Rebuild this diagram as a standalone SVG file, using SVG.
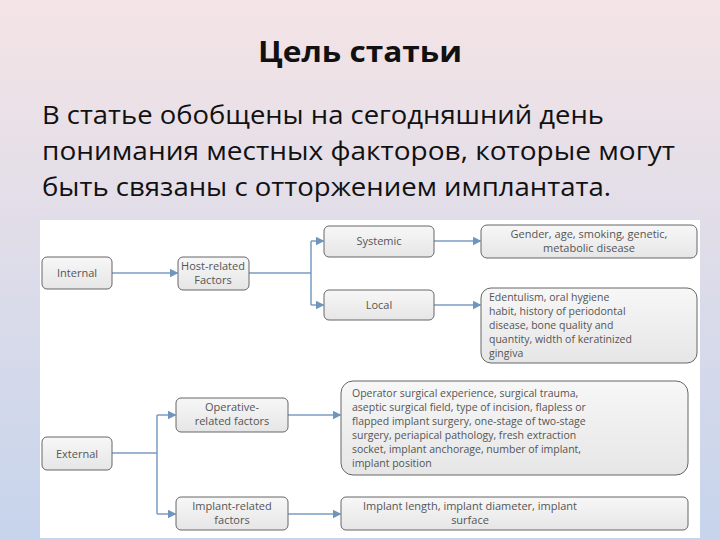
<svg xmlns="http://www.w3.org/2000/svg" width="720" height="540" viewBox="0 0 720 540">
<defs>
<linearGradient id="bg" x1="0" y1="0" x2="0" y2="1"><stop offset="0" stop-color="#f4e4e6"/><stop offset="1" stop-color="#c6d4ec"/></linearGradient>
<linearGradient id="nb" x1="0" y1="0" x2="0" y2="1"><stop offset="0" stop-color="#f7f7f7"/><stop offset="1" stop-color="#e6e6e6"/></linearGradient>
<marker id="a" markerWidth="6" markerHeight="6" refX="5" refY="3" orient="auto"><path d="M0,0 L6,3 L0,6z" fill="#6f95bd"/></marker>
<style>
.n{fill:url(#nb);stroke:#666;stroke-width:1}
.t{font-family:"Open Sans","DejaVu Sans",sans-serif;font-size:11px;fill:#555;text-anchor:middle}
.s{font-family:"Open Sans","DejaVu Sans",sans-serif;font-size:10.5px;fill:#555}
.c{fill:none;stroke:#7a9cc4;stroke-width:1.5}
.h{font-family:"Open Sans","DejaVu Sans",sans-serif;fill:#111}
</style>
</defs>
<rect width="720" height="540" fill="url(#bg)"/>
<text class="h" x="258" y="62" font-size="29" font-weight="bold" textLength="204" lengthAdjust="spacingAndGlyphs">Цель статьи</text>
<text class="h" font-size="25" lengthAdjust="spacingAndGlyphs" x="42" y="124" textLength="562">В статье обобщены на сегодняшний день</text>
<text class="h" font-size="25" lengthAdjust="spacingAndGlyphs" x="42" y="160" textLength="633">понимания местных факторов, которые могут</text>
<text class="h" font-size="25" lengthAdjust="spacingAndGlyphs" x="42" y="196" textLength="569">быть связаны с отторжением имплантата.</text>
<rect x="40" y="220" width="660" height="318" fill="#fff"/>
<g id="connectors">
<path class="c" d="M112,273 H177" marker-end="url(#a)"/>
<path class="c" d="M249,273 H311 M311,241 V305"/>
<path class="c" d="M311,241 H323" marker-end="url(#a)"/>
<path class="c" d="M311,305 H323" marker-end="url(#a)"/>
<path class="c" d="M434,241 H480" marker-end="url(#a)"/>
<path class="c" d="M434,305 H480" marker-end="url(#a)"/>
<path class="c" d="M112,453 H157 M157,415 V514"/>
<path class="c" d="M157,415 H175" marker-end="url(#a)"/>
<path class="c" d="M157,514 H175" marker-end="url(#a)"/>
<path class="c" d="M288,415 H340" marker-end="url(#a)"/>
<path class="c" d="M288,514 H340" marker-end="url(#a)"/>
</g>
<g id="internal"><rect class="n" x="42" y="257" width="70" height="32" rx="5"/><text class="t" x="77" y="277">Internal</text></g>
<g id="host"><rect class="n" x="178" y="257" width="71" height="33" rx="5"/><text class="t" x="213" y="270">Host-related</text><text class="t" x="213" y="284">Factors</text></g>
<g id="systemic"><rect class="n" x="324" y="226" width="110" height="31" rx="5"/><text class="t" x="379" y="245">Systemic</text></g>
<g id="gender"><rect class="n" x="481" y="225" width="216" height="33" rx="6"/><text class="t" x="589" y="238">Gender, age, smoking, genetic,</text><text class="t" x="589" y="252">metabolic disease</text></g>
<g id="local"><rect class="n" x="324" y="290" width="110" height="30" rx="5"/><text class="t" x="379" y="309">Local</text></g>
<g id="edent"><rect class="n" x="481" y="288" width="216" height="75" rx="10"/><text class="s" x="489"><tspan x="489" y="301">Edentulism, oral hygiene</tspan><tspan x="489" y="315">habit, history of periodontal</tspan><tspan x="489" y="329">disease, bone quality and</tspan><tspan x="489" y="343">quantity, width of keratinized</tspan><tspan x="489" y="357">gingiva</tspan></text></g>
<g id="external"><rect class="n" x="42" y="437" width="70" height="33" rx="5"/><text class="t" x="77" y="458">External</text></g>
<g id="operative"><rect class="n" x="176" y="398" width="112" height="34" rx="5"/><text class="t" x="232" y="411">Operative-</text><text class="t" x="232" y="425">related factors</text></g>
<g id="operator"><rect class="n" x="341" y="381" width="347" height="94" rx="12"/><text class="s" font-size="9.8"><tspan x="352" y="397">Operator surgical experience, surgical trauma,</tspan><tspan x="352" y="411">aseptic surgical field, type of incision, flapless or</tspan><tspan x="352" y="425">flapped implant surgery, one-stage of two-stage</tspan><tspan x="352" y="439">surgery, periapical pathology, fresh extraction</tspan><tspan x="352" y="453">socket, implant anchorage, number of implant,</tspan><tspan x="352" y="467">implant position</tspan></text></g>
<g id="implant"><rect class="n" x="176" y="497" width="112" height="33" rx="5"/><text class="t" x="232" y="510">Implant-related</text><text class="t" x="232" y="524">factors</text></g>
<g id="implantprops"><rect class="n" x="341" y="497" width="347" height="33" rx="5"/><text class="t" x="470" y="510">Implant length, implant diameter, implant</text><text class="t" x="470" y="524">surface</text></g>
</svg>
